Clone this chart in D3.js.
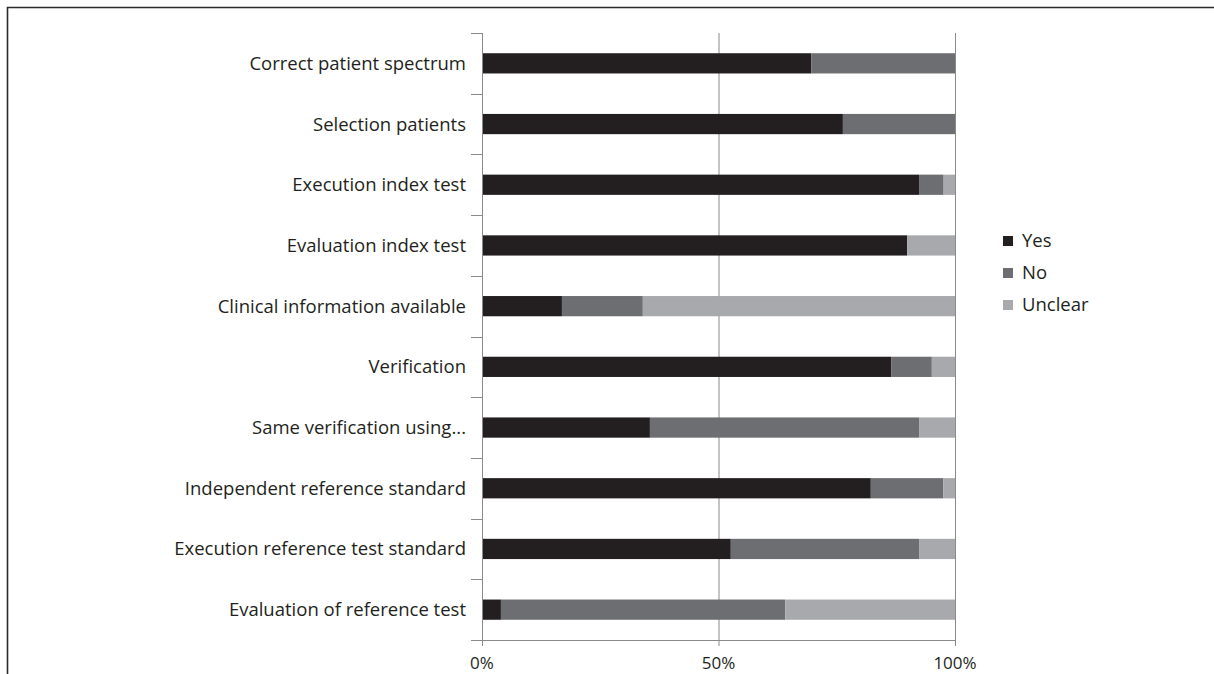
<!DOCTYPE html>
<html>
<head>
<meta charset="utf-8">
<script src="https://cdn.jsdelivr.net/npm/d3@7"></script>
<style>
  html, body { margin: 0; padding: 0; background: #fff; }
  svg { display: block; }
  text { font-family: "Open Sans", "Noto Sans", sans-serif; fill: #231f20; }
</style>
</head>
<body>
<svg id="chart" width="1214" height="674"></svg>
<script>
// Quality assessment items (top to bottom)
const categories = [
  "Correct patient spectrum",
  "Selection patients",
  "Execution index test",
  "Evaluation index test",
  "Clinical information available",
  "Verification",
  "Same verification using...",
  "Independent reference standard",
  "Execution reference test standard",
  "Evaluation of reference test"
];

// Share of studies (%) per answer
const yesValues     = [69.6, 76.3, 92.4, 89.9, 16.9, 86.5, 35.5, 82.2, 52.6, 4.0];
const noValues      = [30.4, 23.7, 5.2, 0.0, 17.1, 8.6, 56.9, 15.3, 39.8, 60.1];
const unclearValues = [0.0, 0.0, 2.4, 10.1, 66.0, 4.9, 7.6, 2.5, 7.6, 35.9];

const seriesNames = ["Yes", "No", "Unclear"];
const seriesColors = ["#231f20", "#6d6e71", "#a7a9ac"];
const xTicks = [0, 50, 100];
const xTickLabels = ["0%", "50%", "100%"];

const rows = categories.map((c, i) => ({
  category: c,
  Yes: yesValues[i],
  No: noValues[i],
  Unclear: unclearValues[i]
}));

const svg = d3.select("#chart");

// Outer frame (top and left edges)
svg.append("path")
  .attr("d", "M7.5,674 V7.5 H1214")
  .attr("fill", "none")
  .attr("stroke", "#2b2b2b")
  .attr("stroke-width", 1.6);

const plot = { left: 482, right: 955, top: 33, bottom: 640 };

const x = d3.scaleLinear().domain([0, 100]).range([plot.left, plot.right]);
const y = d3.scaleBand().domain(categories).range([plot.top, plot.bottom]).paddingInner(2 / 3).paddingOuter(1 / 3);
const yOuter = d3.scaleBand().domain(categories).range([plot.top, plot.bottom]);

// Vertical gridlines
svg.append("g")
  .selectAll("line")
  .data(xTicks.slice(1))
  .join("line")
  .attr("x1", d => x(d) + 0.5).attr("x2", d => x(d) + 0.5)
  .attr("y1", plot.top).attr("y2", plot.bottom)
  .attr("stroke", "#8a8a8a")
  .attr("stroke-width", 1);

// Stacked bars
const stack = d3.stack().keys(seriesNames);
const layers = stack(rows);
const color = d3.scaleOrdinal().domain(seriesNames).range(seriesColors);

svg.append("g")
  .selectAll("g")
  .data(layers)
  .join("g")
  .attr("fill", d => color(d.key))
  .selectAll("rect")
  .data(d => d)
  .join("rect")
  .attr("x", d => x(d[0]))
  .attr("y", d => y(d.data.category))
  .attr("width", d => Math.max(0, x(d[1]) - x(d[0])))
  .attr("height", y.bandwidth());

// Category axis with boundary ticks
const axisColor = "#8a8a8a";
const yAxisG = svg.append("g");
yAxisG.append("line")
  .attr("x1", plot.left + 0.5).attr("x2", plot.left + 0.5)
  .attr("y1", plot.top).attr("y2", plot.bottom + 6)
  .attr("stroke", axisColor);
const boundaries = categories.map(c => yOuter(c)).concat([plot.bottom]);
yAxisG.selectAll("line.tick")
  .data(boundaries)
  .join("line")
  .attr("class", "tick")
  .attr("x1", plot.left - 11).attr("x2", plot.left)
  .attr("y1", d => Math.round(d) + 0.5).attr("y2", d => Math.round(d) + 0.5)
  .attr("stroke", axisColor);
yAxisG.selectAll("text")
  .data(categories)
  .join("text")
  .attr("x", plot.left - 16)
  .attr("y", d => yOuter(d) + yOuter.bandwidth() / 2)
  .attr("dy", "0.35em")
  .attr("text-anchor", "end")
  .attr("font-size", 18.5)
  .text(d => d);

// Percentage axis
const xAxisG = svg.append("g");
xAxisG.append("line")
  .attr("x1", plot.left - 11).attr("x2", plot.right + 1)
  .attr("y1", plot.bottom + 0.5).attr("y2", plot.bottom + 0.5)
  .attr("stroke", axisColor);
xAxisG.selectAll("line.tick")
  .data(xTicks)
  .join("line")
  .attr("class", "tick")
  .attr("x1", d => x(d) + 0.5).attr("x2", d => x(d) + 0.5)
  .attr("y1", plot.bottom).attr("y2", plot.bottom + 6)
  .attr("stroke", axisColor);
xAxisG.selectAll("text")
  .data(xTicks)
  .join("text")
  .attr("x", d => x(d))
  .attr("y", plot.bottom + 23)
  .attr("dy", "0.35em")
  .attr("text-anchor", "middle")
  .attr("font-size", 17)
  .text((d, i) => xTickLabels[i]);

// Legend
const legend = svg.append("g").attr("transform", "translate(1003,241)");
const item = legend.selectAll("g")
  .data(seriesNames)
  .join("g")
  .attr("transform", (d, i) => `translate(0,${i * 32})`);
item.append("rect")
  .attr("x", 0).attr("y", -5)
  .attr("width", 10).attr("height", 10)
  .attr("fill", d => color(d));
item.append("text")
  .attr("x", 19).attr("y", 0)
  .attr("dy", "0.35em")
  .attr("font-size", 18.5)
  .text(d => d);
</script>
</body>
</html>
